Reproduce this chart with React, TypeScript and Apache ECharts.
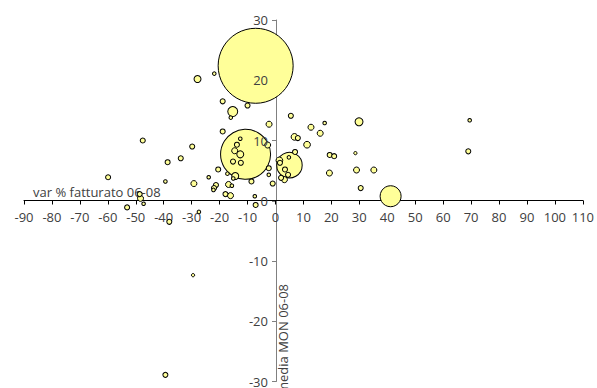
import React, { useEffect, useRef } from "react";
import * as echarts from "echarts";

// var % fatturato 06-08 (x), media MON 06-08 (y), bubble size (z)
const xValues = [
  -7.1, -10.7, 5.0, 41.2, -27.9, -21.9, -18.9, -15.3, -16.0, -10.0,
  -2.3, 5.5, 6.8, 8.0, -18.9, -47.5, -29.8, -12.6, -13.8, -14.6,
  -12.6, -15.2, -12.4, -2.8, -2.4, -2.4, -1.0, -8.6, -14.4, -15.1,
  -20.5, -23.9, -17.2, -16.8, -15.6, -21.3, -22.0, -22.2, -29.2, -17.9,
  -16.1, -38.6, -33.9, -39.4, -59.9, -48.6, -48.3, -47.2, -53.1, -7.4,
  -7.1, -27.4, -38.0, -29.5, -39.4, 12.7, 17.6, 16.0, 29.9, 69.5,
  69.0, 11.3, 7.0, 19.4, 21.0, 28.6, 19.3, 29.0, 35.2, 30.5,
  4.8, 3.4, 4.5, 3.2, 2.0, 1.4, 1.6
];
const yValues = [
  22.4, 7.7, 5.9, 0.75, 20.2, 21.1, 16.5, 14.8, 13.8, 15.8,
  12.7, 14.1, 10.6, 10.4, 11.5, 10.0, 9.0, 10.3, 9.3, 8.3,
  7.7, 6.5, 6.3, 9.25, 5.4, 4.3, 2.85, 3.2, 4.1, 3.7,
  5.2, 3.9, 4.5, 2.7, 2.5, 2.6, 2.1, 1.8, 2.85, 1.1,
  0.85, 6.4, 7.05, 3.2, 3.9, 1.1, 0.4, -0.5, -1.1, 0.75,
  -0.7, -1.85, -3.5, -12.35, -28.9, 12.2, 12.9, 11.2, 13.1, 13.35,
  8.2, 9.3, 8.1, 7.6, 7.4, 7.9, 4.6, 5.1, 5.1, 2.1,
  7.2, 5.2, 4.3, 3.5, 3.8, 6.7, 6.3
];
const sizeValues = [
  625, 278, 72, 49, 5.4, 1.4, 2.8, 11, 1.4, 2.8,
  4, 2.8, 5, 2.8, 2.8, 2.8, 2.8, 1.4, 2.8, 4,
  5.4, 2.8, 2.8, 4, 2.8, 1.4, 2.8, 2.8, 5.4, 1.4,
  2.8, 1.4, 1.4, 4, 1.4, 2.8, 2.8, 1.4, 4, 2.8,
  4, 2.8, 2.8, 1.4, 2.8, 2.8, 4, 1.4, 2.8, 1.4,
  2.8, 1.4, 2.8, 1.2, 2.8, 4, 1.4, 4, 7, 1.4,
  2.8, 5, 2.8, 2.8, 2.8, 1.2, 4, 4, 4, 2.8,
  1.4, 2.8, 2.8, 4, 2.8, 5, 2.8
];

const xName = "var % fatturato 06-08";
const yName = "media MON 06-08";

const X_MIN = -90;
const X_MAX = 110;
const Y_MIN = -30;
const Y_MAX = 30;
const STEP = 10;

const FONT = "'Open Sans', 'DejaVu Sans', sans-serif";
const TEXT_COLOR = "#404040";

const W = 597;
const H = 388;
const GRID = { left: 24, right: 13, top: 20, bottom: 6 };

export default function App() {
  const ref = useRef<HTMLDivElement>(null);

  useEffect(() => {
    document.body.style.margin = "0";
    if (!ref.current) return;
    const chart = echarts.init(ref.current, undefined, { renderer: "svg" });
    const data = xValues
      .map((x, i) => [x, yValues[i], sizeValues[i]])
      .sort((a, b) => b[2] - a[2]);

    const gw = W - GRID.left - GRID.right;
    const gh = H - GRID.top - GRID.bottom;
    // move axes so they cross at the origin (labels follow the lines)
    const xAxisOffset = -((0 - Y_MIN) / (Y_MAX - Y_MIN)) * gh;
    const yAxisOffset = -((0 - X_MIN) / (X_MAX - X_MIN)) * gw;

    const yBase = {
      type: "value",
      min: Y_MIN,
      max: Y_MAX,
      interval: STEP,
      position: "left",
      offset: yAxisOffset,
      splitLine: { show: false },
    };

    chart.setOption({
      animation: false,
      backgroundColor: "#ffffff",
      grid: { ...GRID, containLabel: false },
      xAxis: {
        type: "value",
        min: X_MIN,
        max: X_MAX,
        interval: STEP,
        position: "bottom",
        offset: xAxisOffset,
        splitLine: { show: false },
        axisLine: { onZero: false, lineStyle: { color: "#000000", width: 1 } },
        axisTick: { show: true, length: 4, lineStyle: { color: "#000000" } },
        axisLabel: {
          color: TEXT_COLOR,
          fontSize: 13,
          fontFamily: FONT,
          margin: 10,
          showMinLabel: true,
          showMaxLabel: true,
          hideOverlap: false,
        },
        name: xName,
        nameLocation: "start",
        nameGap: -9,
        nameTextStyle: {
          color: TEXT_COLOR,
          fontSize: 13,
          fontFamily: FONT,
          align: "left",
          verticalAlign: "bottom",
          padding: [0, 0, 2, 0],
        },
      },
      yAxis: [
        {
          ...yBase,
          axisLine: { onZero: false, lineStyle: { color: "#808080", width: 1 } },
          axisTick: { show: true, length: 4, lineStyle: { color: "#808080" } },
          axisLabel: { show: false },
        },
        {
          ...yBase,
          z: 10,
          axisLine: { show: false, onZero: false },
          axisTick: { show: false },
          axisLabel: {
            color: TEXT_COLOR,
            fontSize: 13,
            fontFamily: FONT,
            margin: 8,
            showMinLabel: true,
            showMaxLabel: true,
            hideOverlap: false,
          },
        },
      ],
      graphic: [
        {
          type: "text",
          x: 283,
          y: 394,
          rotation: Math.PI / 2,
          style: {
            text: yName,
            fill: TEXT_COLOR,
            font: `13px ${FONT}`,
            align: "left",
            verticalAlign: "middle",
          },
        },
      ],
      series: [
        {
          type: "scatter",
          yAxisIndex: 0,
          data,
          symbolSize: (val: number[]) => Math.sqrt(val[2]) * 3,
          itemStyle: {
            color: "#FFFF99",
            borderColor: "#000000",
            borderWidth: 1,
            opacity: 1,
          },
          emphasis: { disabled: true },
        },
      ],
    });
    return () => chart.dispose();
  }, []);

  return <div ref={ref} style={{ width: W, height: H }} />;
}
